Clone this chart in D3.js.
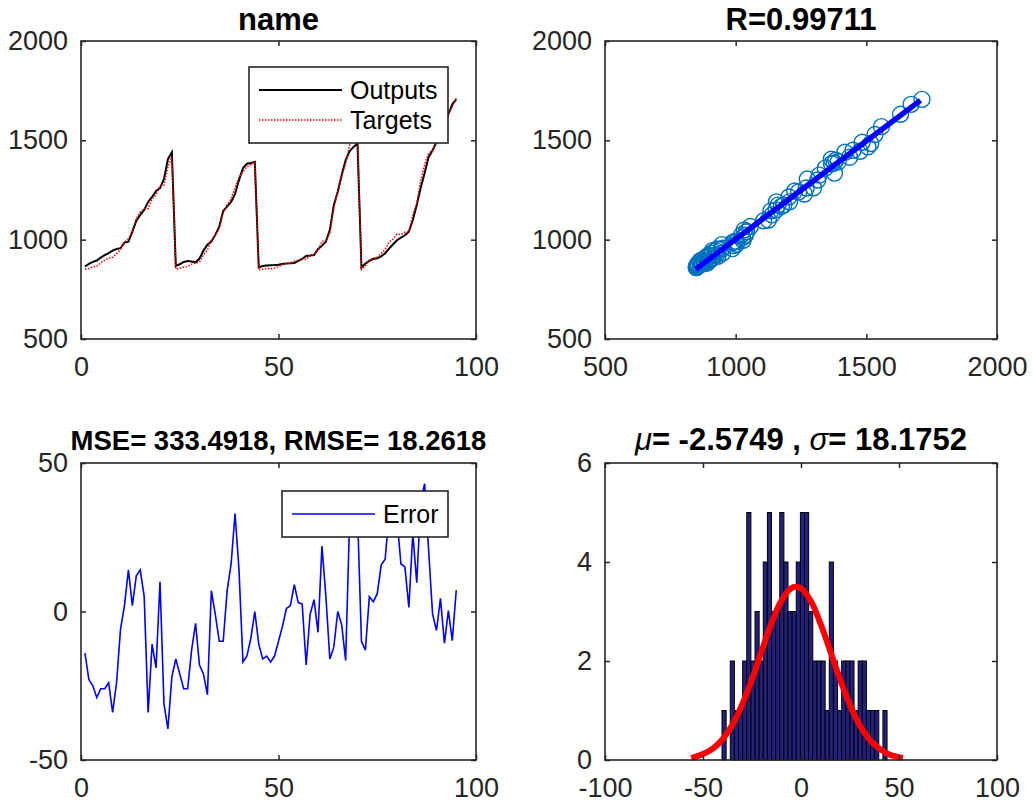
<!DOCTYPE html>
<html>
<head>
<meta charset="utf-8">
<script src="https://cdn.jsdelivr.net/npm/d3@7/dist/d3.min.js"></script>
<style>
  body { margin: 0; background: #fff; }
  text { font-family: "Liberation Sans", Arial, Helvetica, sans-serif; }
</style>
</head>
<body>
<div id="chart"></div>
<script>
// network outputs and targets, sample 1..95
const outputs = [865, 878, 888, 895, 910, 922, 932, 945, 953, 957,
  985, 990, 1040, 1095, 1125, 1150, 1190, 1215, 1245, 1260,
  1305, 1405, 1440, 868, 876, 888, 892, 890, 886, 905,
  945, 975, 990, 1024, 1066, 1145, 1168, 1190, 1230, 1300,
  1360, 1382, 1386, 1392, 860, 868, 870, 871, 872, 874,
  878, 880, 881, 883, 893, 903, 918, 920, 923, 952,
  970, 990, 1049, 1174, 1241, 1325, 1400, 1445, 1467, 1484,
  860, 880, 893, 903, 906, 916, 932, 955, 977, 997,
  1010, 1022, 1040, 1099, 1174, 1261, 1335, 1415, 1450, 1490,
  1529, 1569, 1631, 1681, 1706];

const targets = [851, 855, 863, 866, 884, 896, 908, 911, 929, 951,
  987, 1004, 1042, 1107, 1139, 1155, 1156, 1204, 1226, 1270,
  1274, 1366, 1418, 852, 855, 862, 866, 877, 882, 887,
  924, 947, 997, 1023, 1056, 1135, 1175, 1206, 1263, 1314,
  1343, 1367, 1377, 1392, 849, 852, 855, 854, 857, 864,
  873, 881, 883, 892, 896, 906, 900, 919, 927, 945,
  992, 995, 1033, 1162, 1241, 1320, 1383, 1476, 1506, 1517,
  850, 867, 898, 906, 912, 932, 950, 988, 1003, 1028,
  1026, 1037, 1041, 1125, 1184, 1298, 1378, 1436, 1449, 1484,
  1533, 1558, 1631, 1671, 1713];

// error = targets - outputs
const errors = [-14, -23, -25, -29, -26, -26, -24, -34, -24, -6,
  2, 14, 2, 12, 14, 5, -34, -11, -19, 10,
  -31, -39.5, -22, -16, -21, -26, -26, -13, -4, -18,
  -21, -28, 7, -1, -10, -10, 7, 16, 33, 14,
  -17, -15, -9, 0, -11, -16, -15, -17, -15, -10,
  -5, 1, 2, 9, 3, 2.5, -18, -1, 4, -7,
  22, 5, -16, -12, 0, -4.5, -16.5, 31, 39, 33,
  -10, -13, 5, 3.3, 6, 15.7, 17.6, 33, 25.8, 31,
  16, 15, 1.4, 26.3, 9.7, 37, 43, 20.7, -0.8, -6.4,
  4.4, -10.7, 0.3, -9.8, 7.2];

// regression line end points (target, output)
const fitX = [847, 1707];
const fitY = [851, 1701];

// error histogram: 40 equal bins between the extreme errors
const histRange = [-40.3, 43.9];
const histCounts = [1, 0, 2, 1, 1, 2, 5, 2, 3, 2,
  4, 5, 3, 3, 5, 4, 3, 3, 4, 5,
  5, 3, 2, 2, 2, 1, 4, 2, 1, 2,
  2, 2, 1, 2, 2, 1, 1, 1, 0, 1];

// fitted normal curve over the histogram
const curveX = [-56, -50, -45, -40, -35, -30, -25, -20, -15, -10, -5, -2.6, 0, 5, 10, 15, 20, 25, 30, 35, 40, 45, 52];
const curveY = [0.04, 0.12, 0.23, 0.42, 0.71, 1.12, 1.63, 2.21, 2.77, 3.22, 3.47, 3.5, 3.47, 3.21, 2.75, 2.19, 1.62, 1.11, 0.70, 0.41, 0.23, 0.11, 0.04];

const ticksIndex = [0, 50, 100];
const ticksLevel = [500, 1000, 1500, 2000];
const ticksErr = [-50, 0, 50];
const ticksHistX = [-100, -50, 0, 50, 100];
const ticksHistY = [0, 2, 4, 6];

const W = 1033, H = 805;
const ink = "#262626";
const fontTick = 27;

const svg = d3.select("#chart").append("svg")
  .attr("width", W).attr("height", H)
  .style("background", "#fff");

// axes boxes
const colL = [81, 476], colR = [605, 997];
const rowT = [41, 339], rowB = [463, 760];

function makePanel(cols, rows, xDom, yDom) {
  const x = d3.scaleLinear().domain(xDom).range(cols);
  const y = d3.scaleLinear().domain(yDom).range([rows[1], rows[0]]);
  const g = svg.append("g");
  return { x, y, g, cols, rows };
}

const plain = d => String(d);

function drawAxes(p, xt, yt) {
  const [x0, x1] = p.cols, [y0, y1] = p.rows;
  const style = sel => {
    sel.select(".domain").remove();
    sel.selectAll("line").attr("stroke", ink).attr("stroke-width", 1.5);
    sel.selectAll("text").attr("fill", ink).style("font-size", fontTick + "px");
  };
  p.g.append("g").attr("transform", `translate(0,${y1})`)
    .call(d3.axisBottom(p.x).tickValues(xt).tickFormat(plain).tickSize(-5).tickPadding(18))
    .call(style);
  p.g.append("g").attr("transform", `translate(0,${y0})`)
    .call(d3.axisTop(p.x).tickValues(xt).tickSize(-5).tickFormat(""))
    .call(style);
  p.g.append("g").attr("transform", `translate(${x0},0)`)
    .call(d3.axisLeft(p.y).tickValues(yt).tickFormat(plain).tickSize(-5).tickPadding(13))
    .call(style);
  p.g.append("g").attr("transform", `translate(${x1},0)`)
    .call(d3.axisRight(p.y).tickValues(yt).tickSize(-5).tickFormat(""))
    .call(style);
  p.g.append("rect")
    .attr("x", x0).attr("y", y0).attr("width", x1 - x0).attr("height", y1 - y0)
    .attr("fill", "none").attr("stroke", ink).attr("stroke-width", 1.6);
}

// lift / size keep the long lower-left title clear of the "50" tick label
function title(p, txt, lift, size) {
  const t = p.g.append("text")
    .attr("x", (p.cols[0] + p.cols[1]) / 2)
    .attr("y", p.rows[0] - lift)
    .attr("text-anchor", "middle")
    .style("font-size", (size || 31) + "px").style("font-weight", "bold")
    .attr("fill", "#000");
  if (typeof txt === "string") t.text(txt);
  else txt.forEach(s => t.append("tspan").text(s.t)
    .style("font-style", s.it ? "italic" : "normal")
    .style("font-weight", s.it ? "normal" : "bold"));
}

function legend(p, x, y, w, items) {
  const rowH = 30, h = items.length * rowH + 16;
  const lg = p.g.append("g").attr("transform", `translate(${x},${y})`);
  lg.append("rect").attr("width", w).attr("height", h)
    .attr("fill", "#fff").attr("stroke", ink).attr("stroke-width", 1.6);
  items.forEach((it, i) => {
    const cy = 23 + i * rowH;
    lg.append("line").attr("x1", 10).attr("x2", 93).attr("y1", cy).attr("y2", cy)
      .attr("stroke", it.color).attr("stroke-width", it.width)
      .attr("stroke-dasharray", it.dash || null);
    lg.append("text").attr("x", 101).attr("y", cy + 9)
      .style("font-size", "25px").attr("fill", "#000").text(it.label);
  });
}

const idx = outputs.map((d, i) => i + 1);

// ---- top left: outputs vs targets over samples
const p1 = makePanel(colL, rowT, [0, 100], [500, 2000]);
const line1 = d3.line().x((d, i) => p1.x(idx[i])).y(d => p1.y(d));
p1.g.append("path").datum(outputs).attr("d", line1)
  .attr("fill", "none").attr("stroke", "#000").attr("stroke-width", 2);
p1.g.append("path").datum(targets).attr("d", line1)
  .attr("fill", "none").attr("stroke", "#ff0000").attr("stroke-width", 1.5)
  .attr("stroke-dasharray", "1.5,1.5");
drawAxes(p1, ticksIndex, ticksLevel);
title(p1, "name", 11);
legend(p1, 249, 67, 199, [
  { label: "Outputs", color: "#000", width: 2 },
  { label: "Targets", color: "#ff0000", width: 1.5, dash: "1.5,1.5" }
]);

// ---- top right: regression
const p2 = makePanel(colR, rowT, [500, 2000], [500, 2000]);
p2.g.append("g").selectAll("circle")
  .data(targets)
  .enter().append("circle")
  .attr("cx", d => p2.x(d))
  .attr("cy", (d, i) => p2.y(outputs[i]))
  .attr("r", 8)
  .attr("fill", "none").attr("stroke", "#0072bd").attr("stroke-width", 1.4);
p2.g.append("line")
  .attr("x1", p2.x(fitX[0])).attr("y1", p2.y(fitY[0]))
  .attr("x2", p2.x(fitX[1])).attr("y2", p2.y(fitY[1]))
  .attr("stroke", "#0000ff").attr("stroke-width", 5.5);
drawAxes(p2, ticksLevel, ticksLevel);
title(p2, "R=0.99711", 11);

// ---- bottom left: error
const p3 = makePanel(colL, rowB, [0, 100], [-50, 50]);
p3.g.append("path").datum(errors)
  .attr("d", d3.line().x((d, i) => p3.x(idx[i])).y(d => p3.y(d)))
  .attr("fill", "none").attr("stroke", "#0000ff").attr("stroke-width", 1.6);
drawAxes(p3, ticksIndex, ticksErr);
title(p3, "MSE= 333.4918, RMSE= 18.2618", 13, 27.5);
legend(p3, 282, 491, 166, [{ label: "Error", color: "#0000ff", width: 1.6 }]);

// ---- bottom right: error histogram
const p4 = makePanel(colR, rowB, [-100, 100], [0, 6]);
const binW = (histRange[1] - histRange[0]) / histCounts.length;
p4.g.append("g").selectAll("rect")
  .data(histCounts.map((c, k) => ({ x0: histRange[0] + k * binW, c })).filter(b => b.c > 0))
  .enter().append("rect")
  .attr("x", b => p4.x(b.x0))
  .attr("width", b => p4.x(b.x0 + binW) - p4.x(b.x0))
  .attr("y", b => p4.y(b.c))
  .attr("height", b => p4.y(0) - p4.y(b.c))
  .attr("fill", "#24207e").attr("stroke", "#000").attr("stroke-width", 1);
p4.g.append("path").datum(curveX)
  .attr("d", d3.line().curve(d3.curveCatmullRom)
    .x(d => p4.x(d)).y((d, i) => p4.y(curveY[i])))
  .attr("fill", "none").attr("stroke", "#ff0000").attr("stroke-width", 6);
drawAxes(p4, ticksHistX, ticksHistY);
title(p4, [
  { t: "\u03bc", it: true }, { t: "= -2.5749 , " },
  { t: "\u03c3", it: true }, { t: "= 18.1752" }
], 13);
</script>
</body>
</html>
